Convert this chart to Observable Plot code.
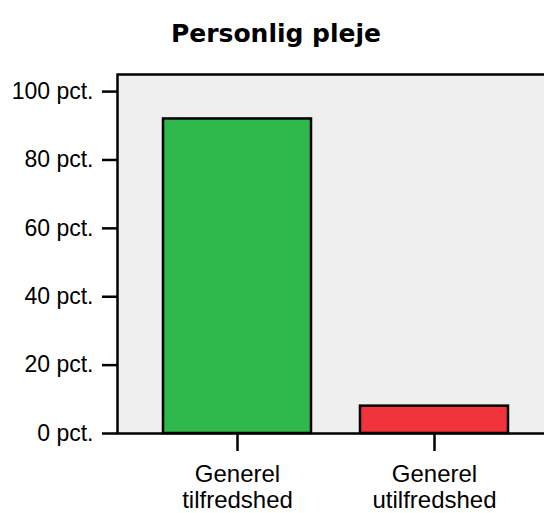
<!DOCTYPE html>
<html>
<head>
<meta charset="utf-8">
<script src="https://cdn.jsdelivr.net/npm/d3@7"></script>
<script src="https://cdn.jsdelivr.net/npm/@observablehq/plot@0.6"></script>
<style>
  html, body { margin: 0; padding: 0; background: white; overflow: hidden; }
  #wrap { position: relative; width: 544px; height: 513px; }
  #title { position: absolute; left: 8px; top: 21px; width: 536px; text-align: center;
           font-family: "DejaVu Sans", Verdana, sans-serif; font-weight: bold; font-size: 25px; line-height: 25px; color: #000; }
</style>
</head>
<body>
<div id="wrap">
  <div id="chart"></div>
  <div id="title">Personlig pleje</div>
</div>
<script>
const title = "Personlig pleje";
const categories = ["Generel tilfredshed", "Generel utilfredshed"];
const values = [92, 8];
const yTicks = [0, 20, 40, 60, 80, 100];
const barColors = ["#2fb84b", "#f1343b"];

const data = categories.map((c, i) => ({category: c, value: values[i]}));

const chart = Plot.plot({
  width: 544,
  height: 513,
  marginLeft: 117,
  marginRight: -3,
  marginTop: 74,
  marginBottom: 80,
  style: {fontFamily: "'Liberation Sans', Arial, sans-serif", background: "white", color: "black", overflow: "hidden"},
  x: {domain: categories, range: [117, 554], paddingInner: 0.249, paddingOuter: 0.2335, align: 0.5},
  y: {domain: [0, 105]},
  color: {domain: categories, range: barColors},
  marks: [
    Plot.frame({fill: "#efefef", stroke: "black", strokeWidth: 2.5}),
    Plot.barY(data, {x: "category", y: "value", fill: "category", stroke: "black", strokeWidth: 2.5}),
    Plot.axisY({ticks: yTicks, tickFormat: d => `${d} pct.`, tickSize: 15, tickPadding: 9, fontSize: 23, strokeWidth: 2.5, label: null}),
    Plot.axisX({tickSize: 18, tickPadding: 13, fontSize: 24, lineHeight: 1.05, strokeWidth: 2.5, label: null,
                tickFormat: d => d.replace(" ", "\n")})
  ]
});
document.getElementById("chart").appendChild(chart);
</script>
</body>
</html>
